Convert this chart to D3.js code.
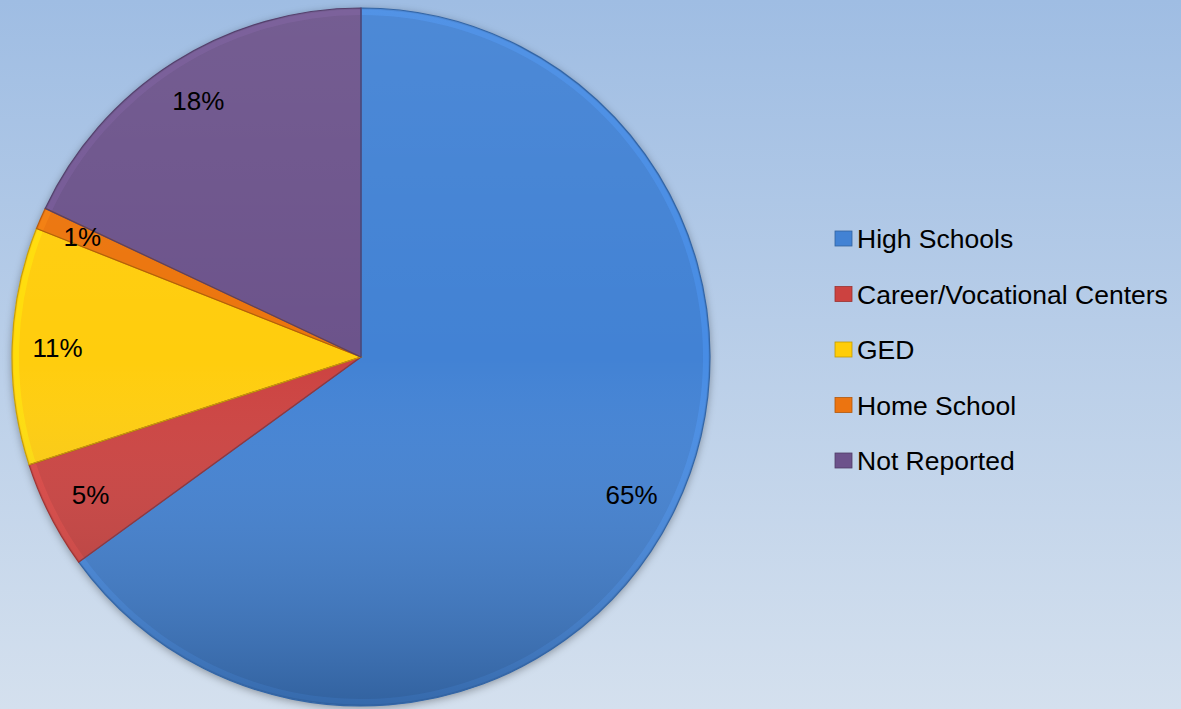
<!DOCTYPE html>
<html>
<head>
<meta charset="utf-8">
<script src="https://cdn.jsdelivr.net/npm/d3@7"></script>
<style>
  body { margin: 0; overflow: hidden; }
  text { font-family: "Liberation Sans", Arial, sans-serif; }
</style>
</head>
<body>
<div id="chart"></div>
<script>
const categories = ["High Schools", "Career/Vocational Centers", "GED", "Home School", "Not Reported"]
const values = [65, 5, 11, 1, 18]
const colors = ["#4282d4", "#cc4240", "#ffcd08", "#ec7410", "#6c528b"]

const width = 1181, height = 709
const cx = 361, cy = 357, radius = 349

const svg = d3.select("#chart").append("svg")
    .attr("width", width)
    .attr("height", height)

const defs = svg.append("defs")

const bg = defs.append("linearGradient").attr("id", "bg")
    .attr("x1", 0).attr("y1", 0).attr("x2", 0).attr("y2", 1)
bg.append("stop").attr("offset", "0%").attr("stop-color", "#9fbde3")
bg.append("stop").attr("offset", "100%").attr("stop-color", "#d4e0ee")

svg.append("rect").attr("width", width).attr("height", height).attr("fill", "url(#bg)")

const shade = defs.append("linearGradient").attr("id", "shade")
    .attr("gradientUnits", "userSpaceOnUse")
    .attr("x1", 0).attr("y1", cy - radius).attr("x2", 0).attr("y2", cy + radius)
shade.append("stop").attr("offset", "0%").attr("stop-color", "#fff").attr("stop-opacity", 0.06)
shade.append("stop").attr("offset", "50%").attr("stop-color", "#fff").attr("stop-opacity", 0)
shade.append("stop").attr("offset", "100%").attr("stop-color", "#000").attr("stop-opacity", 0.25)

const shadow = defs.append("filter").attr("id", "shadow")
    .attr("x", "-10%").attr("y", "-10%").attr("width", "120%").attr("height", "120%")
shadow.append("feGaussianBlur").attr("in", "SourceAlpha").attr("stdDeviation", 4)
shadow.append("feOffset").attr("dx", 0).attr("dy", 2).attr("result", "blur")
shadow.append("feFlood").attr("flood-color", "#000").attr("flood-opacity", 0.35)
shadow.append("feComposite").attr("in2", "blur").attr("operator", "in")
const merge = shadow.append("feMerge")
merge.append("feMergeNode")
merge.append("feMergeNode").attr("in", "SourceGraphic")

const pie = d3.pie().sort(null).value(function (d) { return d })
const arcs = pie(values)
const arc = d3.arc().innerRadius(0).outerRadius(radius)
const rimArc = d3.arc().innerRadius(radius - 7).outerRadius(radius - 1.5)
const labelArc = d3.arc().innerRadius(radius * 0.87).outerRadius(radius * 0.87)

const g = svg.append("g").attr("transform", "translate(" + cx + "," + cy + ")")

g.append("g").attr("filter", "url(#shadow)")
    .selectAll("path")
    .data(arcs)
    .enter().append("path")
    .attr("d", arc)
    .attr("fill", function (d, i) { return colors[i] })

// soft bevel: a lighter rim and a top-to-bottom shade
g.append("g").selectAll("path")
    .data(arcs)
    .enter().append("path")
    .attr("d", rimArc)
    .attr("fill", function (d, i) { return d3.rgb(colors[i]).brighter(0.5) })
    .attr("opacity", 0.4)

g.append("circle")
    .attr("r", radius)
    .attr("fill", "url(#shade)")
    .attr("transform", "translate(" + -cx + "," + -cy + ")")
    .attr("cx", cx).attr("cy", cy)

g.append("g").selectAll("path")
    .data(arcs)
    .enter().append("path")
    .attr("d", arc)
    .attr("fill", "none")
    .attr("stroke", function (d, i) { return d3.rgb(colors[i]).darker(0.7) })
    .attr("stroke-width", 1.2)

g.append("g").selectAll("text")
    .data(arcs)
    .enter().append("text")
    .attr("transform", function (d) { return "translate(" + labelArc.centroid(d) + ")" })
    .attr("text-anchor", "middle")
    .attr("dy", "0.36em")
    .attr("font-size", 26)
    .attr("fill", "#000")
    .text(function (d) { return d.data + "%" })

const legend = svg.append("g").attr("transform", "translate(835,238.5)")
const item = legend.selectAll("g")
    .data(categories)
    .enter().append("g")
    .attr("transform", function (d, i) { return "translate(0," + i * 55.5 + ")" })

item.append("rect")
    .attr("x", 0).attr("y", -7.5)
    .attr("width", 17).attr("height", 15)
    .attr("fill", function (d, i) { return colors[i] })
    .attr("stroke", function (d, i) { return d3.rgb(colors[i]).darker(0.8) })
    .attr("stroke-width", 0.8)

item.append("text")
    .attr("x", 22)
    .attr("dy", "0.36em")
    .attr("font-size", 26.5)
    .attr("fill", "#000")
    .text(function (d) { return d })
</script>
</body>
</html>
